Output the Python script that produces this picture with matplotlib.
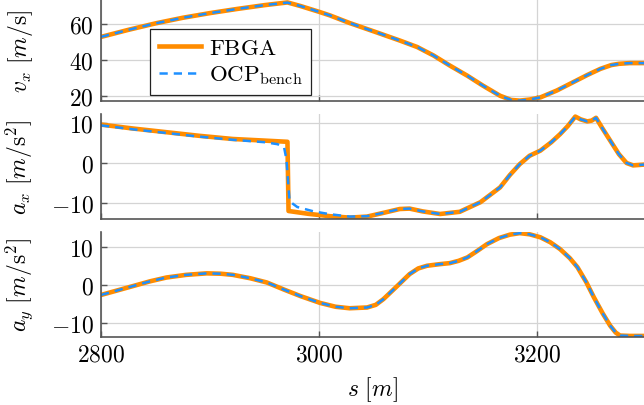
import numpy as np
import matplotlib
matplotlib.use("Agg")
import matplotlib.pyplot as plt

plt.rcParams['mathtext.fontset'] = 'cm'
plt.rcParams['font.family'] = 'serif'
plt.rcParams['font.serif'] = ['cmr10', 'DejaVu Serif']
plt.rcParams['axes.unicode_minus'] = False

# --- data ---
s_vx = [2800, 2825, 2850, 2875, 2900, 2925, 2950, 2971, 2983, 3000, 3010, 3028,
        3050, 3074, 3090, 3105, 3120, 3136, 3150, 3166, 3176, 3184, 3193, 3203,
        3218, 3233, 3246, 3258, 3268, 3275, 3285, 3298]
vx_fbga = [52.9, 56.8, 60.4, 63.5, 66.1, 68.4, 70.5, 72.0, 70.0, 66.8, 64.8, 60.6,
           56.0, 50.9, 47.3, 42.6, 37.0, 31.4, 26.0, 20.3, 18.0, 17.6, 18.2, 19.4,
           23.2, 27.8, 31.8, 35.2, 37.3, 38.0, 38.4, 38.4]
vx_ocp = [52.9, 56.8, 60.4, 63.5, 66.1, 68.4, 70.5, 71.9, 70.0, 66.8, 64.8, 60.6,
          56.0, 50.9, 47.3, 42.6, 37.0, 31.4, 26.0, 20.3, 18.0, 17.6, 18.2, 19.4,
          23.2, 27.8, 31.8, 35.2, 37.3, 38.0, 38.4, 38.4]

s_ax_fbga = [2800, 2830, 2860, 2890, 2921, 2950, 2971, 2972, 2990, 3010, 3028,
             3044, 3060, 3074, 3083, 3095, 3111, 3129, 3148, 3166, 3175, 3184,
             3193, 3203, 3213, 3221, 3228, 3235, 3240, 3246, 3250, 3254, 3260,
             3267, 3275, 3282, 3288, 3298]
ax_fbga = [9.6, 8.6, 7.7, 6.8, 6.0, 5.6, 5.3, -12.0, -12.7, -13.3, -13.65,
           -13.4, -12.4, -11.5, -11.4, -12.1, -12.75, -12.2, -9.8, -6.1, -3.0, -0.3,
           1.8, 3.1, 5.2, 7.2, 9.2, 11.6, 10.9, 10.4, 10.6, 11.3, 8.6,
           5.6, 2.2, 0.0, -0.6, -0.4]
s_ax_ocp = [2800, 2830, 2860, 2890, 2921, 2950, 2962, 2968, 2970, 2973, 2980,
            2995, 3010, 3028, 3044, 3060, 3074, 3083, 3095, 3111, 3129, 3148,
            3166, 3175, 3184, 3193, 3203, 3213, 3221, 3228, 3235, 3240, 3246,
            3250, 3254, 3260, 3267, 3275, 3282, 3288, 3298]
ax_ocp = [9.4, 8.4, 7.5, 6.6, 5.8, 5.2, 4.7, 3.8, 1.0, -9.6, -11.0,
          -12.1, -12.8, -13.4, -13.3, -12.4, -11.5, -11.4, -12.1, -12.75, -12.2, -9.8,
          -6.1, -3.0, -0.3, 1.8, 3.1, 5.2, 7.2, 9.2, 11.6, 10.9, 10.4,
          10.6, 11.3, 8.6, 5.6, 2.2, 0.0, -0.6, -0.4]

s_ay = [2800, 2815, 2830, 2845, 2860, 2878, 2897, 2910, 2921, 2937, 2952, 2968,
        2983, 3001, 3015, 3028, 3044, 3052, 3059, 3070, 3083, 3091, 3099, 3110,
        3120, 3128, 3136, 3145, 3154, 3165, 3175, 3184, 3193, 3203, 3212, 3221,
        3230, 3237, 3245, 3252, 3260, 3267, 3272, 3276, 3285, 3298]
ay_fbga = [-2.7, -1.5, -0.3, 0.9, 1.9, 2.6, 3.0, 2.9, 2.6, 1.7, 0.6, -1.3,
           -3.0, -4.8, -5.8, -6.2, -6.0, -5.3, -3.8, -0.8, 2.8, 4.3, 5.0, 5.4,
           5.7, 6.3, 7.2, 8.9, 10.7, 12.3, 13.2, 13.6, 13.3, 12.5, 11.2, 9.4,
           7.0, 4.6, 0.7, -3.3, -7.5, -10.8, -12.6, -13.4, -13.5, -13.5]
ay_ocp = list(ay_fbga)

xticks = [2800, 3000, 3200]
yticks_vx = [20, 40, 60]
yticks_a = [-10, 0, 10]

orange = '#ff8c00'
blue = '#1e90ff'
spine_col = '#555555'
fs = 17

fig = plt.figure(figsize=(6.44, 4.06), dpi=100)
W, H = 644.0, 406.0
left = 101 / W
width = 1.0 - left

# axes rectangles in pixel rows (top, bottom)
rows = [(0, 102), (115, 220), (233, 337.7)]
axs = []
for top, bot in rows:
    axs.append(fig.add_axes([left, 1 - bot / H, width, (bot - top) / H]))

def style(ax, yt):
    ax.set_xlim(2800, 3298)
    ax.set_xticks(xticks)
    ax.set_yticks(yt)
    ax.set_yticklabels(['$%d$' % v if v >= 0 else '$-%d$' % (-v) for v in yt])
    ax.grid(True, color='#d4d4d4', lw=0.9)
    ax.set_axisbelow(True)
    for sp in ['top', 'right']:
        ax.spines[sp].set_visible(False)
    for sp in ['left', 'bottom']:
        ax.spines[sp].set_color(spine_col)
        ax.spines[sp].set_linewidth(1.2)
    ax.tick_params(direction='in', length=4, width=1, color=spine_col,
                   labelsize=fs, pad=5)
    ax.yaxis.set_label_coords(-0.1215, 0.5)

lw_o, lw_b = 3.3, 1.8
dash = (0, (3.3, 2.4))

ax = axs[0]
ax.plot(s_vx, vx_fbga, color=orange, lw=lw_o, label=r'$\mathrm{FBGA}$')
ax.plot(s_vx, vx_ocp, color=blue, lw=lw_b, ls=dash, label=r'$\mathrm{OCP}_{\mathrm{bench}}$')
ax.set_ylim(17.4, 73.9)
style(ax, yticks_vx)
ax.set_xticklabels([])
ax.set_ylabel(r'$v_x\ [m/\mathrm{s}]$', fontsize=fs)
leg = ax.legend(loc='upper left', bbox_to_anchor=(0.09, 0.705), fontsize=16.5,
                fancybox=False, framealpha=1, edgecolor='#222222',
                handlelength=1.85, handletextpad=0.35, borderpad=0.38,
                labelspacing=0.25, borderaxespad=0)
leg.get_frame().set_linewidth(0.9)

ax = axs[1]
ax.plot(s_ax_fbga, ax_fbga, color=orange, lw=lw_o)
ax.plot(s_ax_ocp, ax_ocp, color=blue, lw=lw_b, ls=dash)
ax.set_ylim(-14, 12.25)
style(ax, yticks_a)
ax.set_xticklabels([])
ax.set_ylabel(r'$a_x\ [m/\mathrm{s}^2]$', fontsize=fs)

ax = axs[2]
ax.plot(s_ay, ay_fbga, color=orange, lw=lw_o)
ax.plot(s_ay, ay_ocp, color=blue, lw=lw_b, ls=dash)
ax.set_ylim(-13.7, 13.9)
style(ax, yticks_a)
ax.set_xticklabels(['$%d$' % v for v in xticks])
ax.set_ylabel(r'$a_y\ [m/\mathrm{s}^2]$', fontsize=fs)
ax.set_xlabel(r'$s\ [m]$', fontsize=fs, labelpad=6)

fig.savefig('out.png', dpi=100)
